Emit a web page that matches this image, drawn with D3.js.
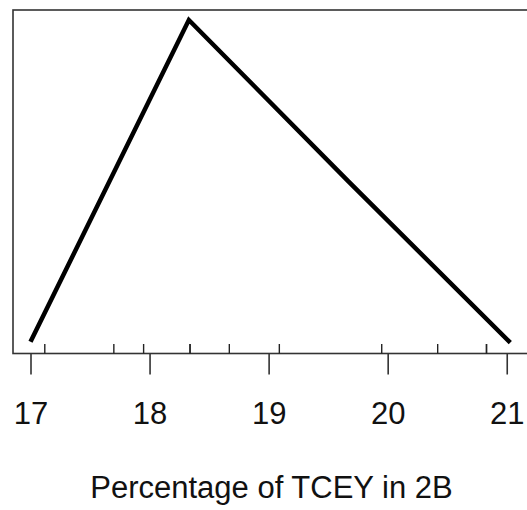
<!DOCTYPE html>
<html>
<head>
<meta charset="utf-8">
<script src="https://cdn.jsdelivr.net/npm/d3@7"></script>
<style>
  html, body { margin: 0; padding: 0; background: #fff; overflow: hidden; }
  text { font-family: "Liberation Sans", Arial, sans-serif; fill: #111; }
</style>
</head>
<body>
<div id="chart"></div>
<script>
// density-like line (x = percentage, y = relative height)
var lineX = [17.0, 18.33, 19.67, 21.03];
var lineY = [0.003, 1, 0.5, 0];

// rug marks along the bottom of the box (duplicates drawn twice = darker)
var rugX = [17.12, 17.7, 17.95, 18.34, 18.34, 18.67, 19.09, 19.95, 20.42, 20.83, 20.83];

var tickValues = [17, 18, 19, 20, 21];
var xTitle = "Percentage of TCEY in 2B";

var width = 527, height = 510;
var box = { left: 13, top: 10, right: 529, bottom: 353.5 };

var svg = d3.select("#chart")
    .append("svg")
    .attr("width", width)
    .attr("height", height);

var x = d3.scaleLinear()
    .domain([16.853, 21.187])
    .range([box.left, box.right]);

var y = d3.scaleLinear()
    .domain([0, 1])
    .range([342.7, 20]);

// plot frame
svg.append("rect")
    .attr("x", box.left)
    .attr("y", box.top)
    .attr("width", box.right - box.left)
    .attr("height", box.bottom - box.top)
    .attr("fill", "none")
    .attr("stroke", "#333")
    .attr("stroke-width", 1.6);

// bottom axis, ticks pointing down
var axis = svg.append("g")
    .attr("transform", "translate(0," + box.bottom + ")")
    .call(d3.axisBottom(x).tickValues(tickValues).tickSize(21).tickPadding(27).tickFormat(d3.format("d")));
axis.select(".domain").remove();
axis.selectAll(".tick line").attr("stroke", "#333").attr("stroke-width", 1.6);
axis.selectAll(".tick text")
    .attr("font-size", 31)
    .attr("fill", "#111")
    .attr("font-family", "Liberation Sans, Arial, sans-serif");

// rug
svg.append("g")
    .selectAll("line")
    .data(rugX)
    .join("line")
    .attr("x1", function (d) { return x(d); })
    .attr("x2", function (d) { return x(d); })
    .attr("y1", box.bottom)
    .attr("y2", box.bottom - 9.5)
    .attr("stroke", "#222")
    .attr("stroke-width", 1.4);

// the line
var pts = lineX.map(function (d, i) { return [d, lineY[i]]; });
svg.append("path")
    .datum(pts)
    .attr("fill", "none")
    .attr("stroke", "#000")
    .attr("stroke-width", 4.5)
    .attr("stroke-linejoin", "miter")
    .attr("d", d3.line()
        .x(function (d) { return x(d[0]); })
        .y(function (d) { return y(d[1]); })
    );

// axis title
svg.append("text")
    .attr("x", (88 + 455) / 2)
    .attr("y", 498)
    .attr("text-anchor", "middle")
    .attr("font-size", 31)
    .text(xTitle);
</script>
</body>
</html>
